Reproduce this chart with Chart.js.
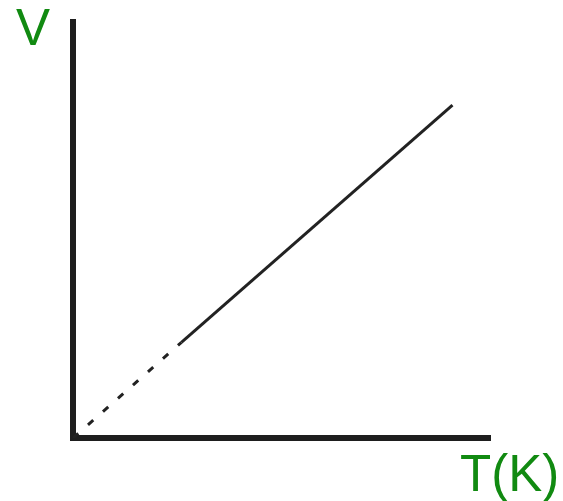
<!DOCTYPE html>
<html>
<head>
<meta charset="utf-8">
<script src="https://cdn.jsdelivr.net/npm/chart.js@4/dist/chart.umd.min.js"></script>
<style>
html,body{margin:0;padding:0;background:#fff;}
#wrap{width:563px;height:501px;}
</style>
</head>
<body>
<div id="wrap"><canvas id="c" width="563" height="501"></canvas></div>
<script>
// Temperature (K) and volume (arbitrary units)
const temperatures = [0, 26, 91];
const volumes = [0, 23, 80];
const xAxisLabel = 'T(K)';
const yAxisLabel = 'V';

const points = temperatures.map((t, i) => ({x: t, y: volumes[i]}));

const labelPlugin = {
  id: 'axisLabels',
  afterDraw(chart) {
    const {ctx, chartArea} = chart;
    ctx.save();
    ctx.fillStyle = '#118a11';
    ctx.font = '51px "Liberation Sans", Arial, sans-serif';
    ctx.textBaseline = 'alphabetic';
    ctx.textAlign = 'left';
    ctx.fillText(yAxisLabel, chartArea.left - 57, chartArea.top + 23);
    ctx.fillText(xAxisLabel, chartArea.right - 30, chartArea.bottom + 53);
    ctx.restore();
  }
};

new Chart(document.getElementById('c'), {
  type: 'scatter',
  data: {
    datasets: [{
      data: points,
      showLine: true,
      borderColor: '#222',
      borderWidth: 3,
      pointRadius: 0,
      fill: false,
      segment: {
        borderDash: ctx => ctx.p0DataIndex === 0 ? [7, 13] : undefined
      }
    }]
  },
  options: {
    responsive: false,
    animation: false,
    layout: {padding: {left: 73, top: 22, right: 73, bottom: 63}},
    plugins: {legend: {display: false}, tooltip: {enabled: false}, title: {display: false}},
    scales: {
      x: {
        type: 'linear', min: 0, max: 100,
        grid: {display: false, drawTicks: false},
        ticks: {display: false},
        border: {display: true, color: '#1e1e1e', width: 6}
      },
      y: {
        type: 'linear', min: 0, max: 100,
        grid: {display: false, drawTicks: false},
        ticks: {display: false},
        border: {display: true, color: '#1e1e1e', width: 6}
      }
    }
  },
  plugins: [labelPlugin]
});
</script>
</body>
</html>
